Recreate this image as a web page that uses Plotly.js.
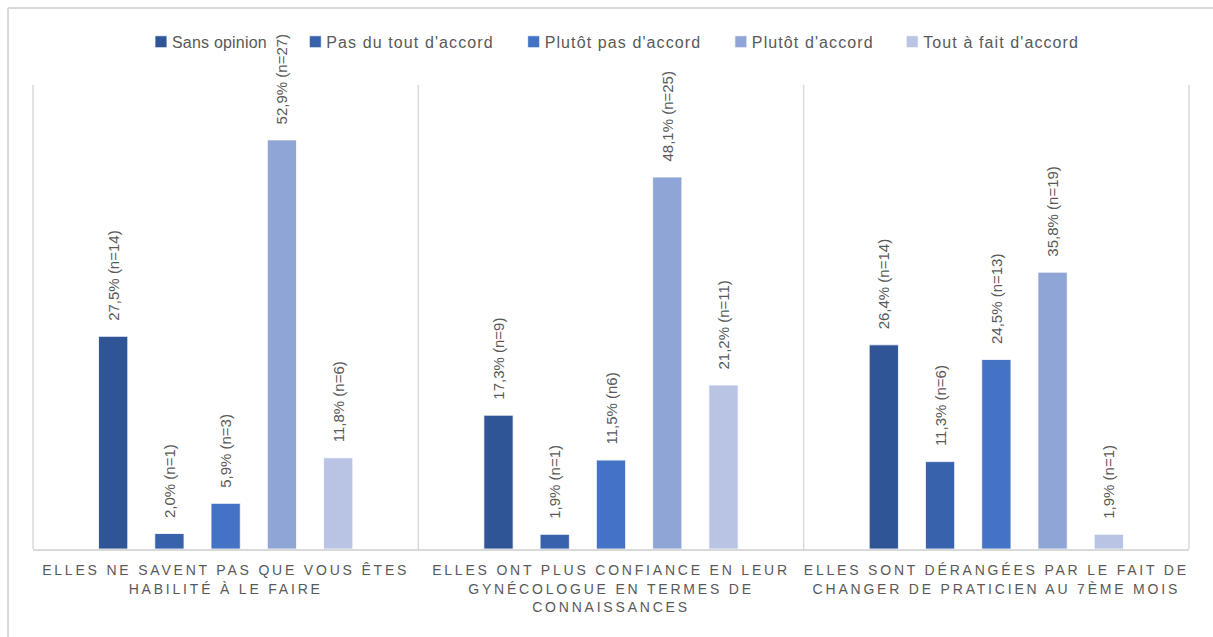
<!DOCTYPE html>
<html>
<head>
<meta charset="utf-8">
<script src="https://cdn.plot.ly/plotly-3.0.1.min.js"></script>
<style>
  html, body { margin: 0; padding: 0; background: #fff; }
  #chart { width: 1213px; height: 637px; }
  #chart .xtick text { letter-spacing: 2.8px; }
  .legendtext { letter-spacing: 1.4px; }
  #chart .legendtext { letter-spacing: 1.1px; transform: translateX(-9px); }
  #chart .legend .traces:first-child .legendtext { letter-spacing: 0.2px; }
</style>
</head>
<body>
<div id="chart"></div>
<script>
const categories = [
  "ELLES NE SAVENT PAS QUE VOUS ÊTES<br>HABILITÉ À LE FAIRE",
  "ELLES ONT PLUS CONFIANCE EN LEUR<br>GYNÉCOLOGUE EN TERMES DE<br>CONNAISSANCES",
  "ELLES SONT DÉRANGÉES PAR LE FAIT DE<br>CHANGER DE PRATICIEN AU 7ÈME MOIS"
];
const seriesNames = ["Sans opinion", "Pas du tout d'accord", "Plutôt pas d'accord", "Plutôt d'accord", "Tout à fait d'accord"];
const colors = ["#2F5597", "#3862AC", "#4472C4", "#8FA5D6", "#B9C4E4"];

const sansOpinion    = [27.5, 17.3, 26.4];
const pasDuTout      = [2.0, 1.9, 11.3];
const plutotPas      = [5.9, 11.5, 24.5];
const plutotAccord   = [52.9, 48.1, 35.8];
const toutAFait      = [11.8, 21.2, 1.9];

const sansOpinionLbl  = ["27,5% (n=14)", "17,3% (n=9)", "26,4% (n=14)"];
const pasDuToutLbl    = ["2,0% (n=1)", "1,9% (n=1)", "11,3% (n=6)"];
const plutotPasLbl    = ["5,9% (n=3)", "11,5% (n6)", "24,5% (n=13)"];
const plutotAccordLbl = ["52,9% (n=27)", "48,1% (n=25)", "35,8% (n=19)"];
const toutAFaitLbl    = ["11,8% (n=6)", "21,2% (n=11)", "1,9% (n=1)"];

const values = [sansOpinion, pasDuTout, plutotPas, plutotAccord, toutAFait];
const labels = [sansOpinionLbl, pasDuToutLbl, plutotPasLbl, plutotAccordLbl, toutAFaitLbl];

const pad = "\u00a0\u00a0\u00a0";
const traces = seriesNames.map((name, i) => ({
  type: "bar",
  name: name,
  x: categories,
  y: values[i],
  text: labels[i].map(t => pad + t),
  textposition: "outside",
  textangle: -90,
  constraintext: "none",
  cliponaxis: false,
  textfont: { family: "Liberation Sans, Arial, sans-serif", size: 15, color: "#595959" },
  marker: { color: colors[i], line: { color: "#ffffff", width: 0.8 } },
  hoverinfo: "none"
}));

const grey = "#D9D9D9";
const shapes = [0, 1/3, 2/3, 1].map(x => ({
  type: "line", xref: "paper", yref: "paper",
  x0: x, x1: x, y0: 0, y1: 1,
  line: { color: grey, width: 1.5 }
}));
// outer chart border (left & top visible)
shapes.push({ type: "line", xref: "paper", yref: "paper", x0: -0.0216, x1: 1.03, y0: 1.166, y1: 1.166, line: { color: grey, width: 2 } });
shapes.push({ type: "line", xref: "paper", yref: "paper", x0: -0.0216, x1: -0.0216, y0: 1.166, y1: -0.2, line: { color: grey, width: 2 } });

const layout = {
  width: 1213, height: 637,
  margin: { l: 33, r: 24, t: 85, b: 88 },
  paper_bgcolor: "#ffffff",
  plot_bgcolor: "#ffffff",
  font: { family: "Liberation Sans, Arial, sans-serif", color: "#595959" },
  barmode: "group",
  bargap: 0.27,
  bargroupgap: 0.48,
  showlegend: true,
  legend: {
    orientation: "h",
    x: 0.5082, xanchor: "center",
    y: 1.093, yanchor: "middle",
    bgcolor: "rgba(0,0,0,0)",
    font: { size: 16, color: "#595959" },
    itemwidth: 30,
    traceorder: "normal"
  },
  xaxis: {
    showline: true, linecolor: grey, linewidth: 1.5,
    showgrid: false, ticks: "",
    ticklabelstandoff: 8,
    tickfont: { size: 14, color: "#595959" },
    fixedrange: true
  },
  yaxis: {
    range: [0, 60],
    visible: false,
    showgrid: false, zeroline: false,
    fixedrange: true
  },
  shapes: shapes
};

Plotly.newPlot("chart", traces, layout, { displayModeBar: false, staticPlot: true });
</script>
</body>
</html>
